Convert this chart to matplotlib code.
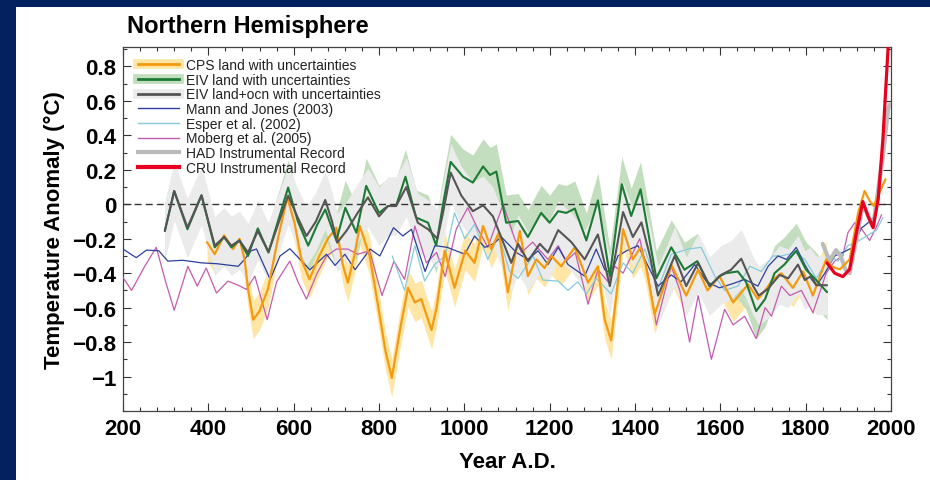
import numpy as np
import matplotlib
matplotlib.use("Agg")
import matplotlib.pyplot as plt
from matplotlib.lines import Line2D
from matplotlib.patches import Rectangle
from matplotlib.ticker import MultipleLocator, FixedLocator, FuncFormatter

plt.rcParams['font.family'] = ['Liberation Sans', 'DejaVu Sans']

# ---- data ----
# EIV land+ocean (dark grey) with uncertainty half-width
eivo_years = [298, 320, 351, 384, 415, 437, 454, 473, 493, 516, 541, 563, 587, 610, 630, 652,
              674, 690, 702, 725, 750, 774, 800, 821, 840, 864, 891, 915, 937, 950, 968, 993,
              1020, 1044, 1067, 1091, 1110, 1126, 1149, 1177, 1196, 1220, 1251, 1282, 1313,
              1341, 1372, 1395, 1415, 1435, 1454, 1493, 1520, 1548, 1575, 1602, 1625, 1649,
              1677, 1690, 1712, 1739, 1759, 1782, 1798, 1810, 1825, 1850]
eivo_vals = [-0.155, 0.077, -0.135, 0.052, -0.24, -0.19, -0.24, -0.21, -0.28, -0.155, -0.277,
             -0.12, 0.05, -0.08, -0.184, -0.10, 0.025, -0.10, -0.223, -0.15, -0.05, 0.04, -0.07,
             -0.01, -0.01, 0.10, -0.107, -0.145, -0.20, -0.05, 0.184, 0.05, -0.04, -0.006, -0.07,
             -0.22, -0.34, -0.23, -0.33, -0.23, -0.28, -0.15, -0.22, -0.32, -0.175, -0.475,
             -0.045, -0.19, -0.105, -0.30, -0.53, -0.30, -0.475, -0.34, -0.475, -0.41, -0.38,
             -0.316, -0.475, -0.53, -0.49, -0.41, -0.43, -0.35, -0.44, -0.42, -0.47, -0.47]
eivo_err = 0.17

# EIV land (green)
eivl_years = [298, 320, 351, 384, 415, 437, 454, 473, 493, 516, 541, 563, 587, 610, 634, 655,
              674, 700, 721, 747, 770, 800, 821, 840, 862, 887, 915, 934, 950, 968, 997, 1020,
              1044, 1060, 1075, 1098, 1126, 1149, 1180, 1200, 1220, 1239, 1259, 1286, 1313,
              1341, 1369, 1391, 1413, 1430, 1450, 1485, 1516, 1546, 1575, 1598, 1613, 1641,
              1660, 1684, 1705, 1727, 1750, 1778, 1801, 1821, 1850]
eivl_vals = [-0.155, 0.077, -0.145, 0.052, -0.25, -0.19, -0.25, -0.21, -0.30, -0.14, -0.28,
             -0.10, 0.097, -0.10, -0.24, -0.12, -0.03, -0.21, -0.02, -0.165, 0.107, -0.05, -0.01,
             -0.01, 0.16, -0.077, -0.107, -0.24, 0.0, 0.246, 0.16, 0.126, 0.22, 0.17, 0.19,
             -0.107, -0.097, -0.19, -0.05, -0.107, -0.04, -0.05, -0.025, -0.21, 0.023, -0.417,
             0.116, -0.068, 0.087, -0.15, -0.43, -0.25, -0.38, -0.33, -0.475, -0.417, -0.40,
             -0.39, -0.45, -0.62, -0.55, -0.40, -0.35, -0.27, -0.38, -0.43, -0.51]
eivl_err = 0.16

# CPS land (orange)
cps_years = [397, 415, 437, 458, 473, 485, 493, 505, 520, 540, 563, 585, 602, 618, 637, 660,
             680, 700, 715, 727, 742, 755, 778, 798, 815, 830, 852, 868, 884, 899, 923, 935,
             954, 977, 1002, 1024, 1044, 1063, 1081, 1102, 1130, 1149, 1169, 1188, 1204, 1227,
             1259, 1290, 1313, 1329, 1344, 1360, 1372, 1395, 1413, 1425, 1446, 1485, 1520,
             1548, 1570, 1598, 1630, 1665, 1688, 1705, 1722, 1743, 1770, 1794, 1817, 1848,
             1860, 1880, 1903, 1923, 1938, 1950, 1960, 1973, 1987]
cps_vals = [-0.22, -0.29, -0.18, -0.26, -0.20, -0.32, -0.49, -0.67, -0.62, -0.49, -0.20, 0.04,
            -0.107, -0.32, -0.436, -0.30, -0.20, -0.136, -0.35, -0.455, -0.30, -0.126, -0.30,
            -0.59, -0.85, -1.008, -0.69, -0.485, -0.57, -0.55, -0.73, -0.60, -0.27, -0.485,
            -0.27, -0.34, -0.126, -0.26, -0.165, -0.51, -0.155, -0.417, -0.32, -0.37, -0.30,
            -0.36, -0.25, -0.455, -0.36, -0.67, -0.79, -0.45, -0.145, -0.32, -0.25, -0.35,
            -0.64, -0.35, -0.53, -0.38, -0.50, -0.417, -0.57, -0.465, -0.55, -0.50, -0.44,
            -0.40, -0.485, -0.39, -0.53, -0.32, -0.36, -0.378, -0.32, -0.05, 0.077, 0.02,
            -0.01, 0.068, 0.145]
cps_err = 0.11
cps_band_end = 1850

# Mann and Jones (2003)
mj_years = [200, 231, 255, 284, 305, 340, 384, 420, 470, 485, 500, 513, 545, 568, 591, 615,
            638, 677, 697, 720, 744, 779, 802, 834, 856, 876, 908, 931, 960, 1001, 1024, 1048,
            1067, 1087, 1122, 1149, 1173, 1196, 1220, 1243, 1282, 1309, 1329, 1344, 1360,
            1380, 1407, 1454, 1485, 1508, 1540, 1568, 1598, 1630, 1657, 1688, 1712, 1735,
            1755, 1778, 1798, 1826, 1845, 1868, 1895, 1911, 1930, 1950, 1962, 1973, 1980]
mj_vals = [-0.26, -0.31, -0.266, -0.27, -0.33, -0.325, -0.34, -0.345, -0.36, -0.32, -0.27,
           -0.26, -0.436, -0.30, -0.258, -0.32, -0.38, -0.29, -0.355, -0.29, -0.38, -0.26,
           -0.30, -0.136, -0.184, -0.145, -0.39, -0.24, -0.25, -0.29, -0.184, -0.25, -0.23,
           -0.19, -0.28, -0.32, -0.27, -0.35, -0.25, -0.35, -0.417, -0.26, -0.38, -0.40,
           -0.30, -0.27, -0.24, -0.475, -0.41, -0.45, -0.35, -0.45, -0.485, -0.46, -0.436,
           -0.475, -0.36, -0.30, -0.32, -0.25, -0.35, -0.47, -0.40, -0.30, -0.27, -0.25,
           -0.14, -0.10, -0.07, 0.087, 0.10]

# Esper et al. (2002)
esp_years = [831, 860, 884, 907, 930, 955, 977, 1001, 1024, 1055, 1081, 1106, 1126, 1161,
             1184, 1220, 1243, 1266, 1286, 1309, 1344, 1372, 1395, 1423, 1454, 1485, 1524,
             1555, 1587, 1610, 1641, 1669, 1696, 1723, 1743, 1775, 1798, 1825, 1840, 1856,
             1876, 1899, 1919, 1946, 1966, 1981]
esp_vals = [-0.30, -0.50, -0.24, -0.446, -0.35, -0.30, -0.05, -0.20, -0.116, -0.32, -0.18,
            -0.39, -0.43, -0.30, -0.44, -0.446, -0.50, -0.45, -0.52, -0.43, -0.52, -0.34,
            -0.40, -0.26, -0.49, -0.29, -0.26, -0.25, -0.417, -0.50, -0.475, -0.36, -0.39,
            -0.30, -0.30, -0.28, -0.32, -0.43, -0.37, -0.30, -0.33, -0.24, -0.22, -0.18,
            -0.15, -0.077]

# Moberg et al. (2005)
mob_years = [198, 220, 251, 278, 300, 320, 352, 374, 395, 419, 446, 470, 489, 509, 538, 560,
             591, 610, 630, 655, 677, 700, 727, 750, 778, 807, 835, 860, 884, 911, 935, 955,
             981, 1008, 1031, 1055, 1091, 1118, 1134, 1160, 1196, 1220, 1239, 1260, 1290,
             1313, 1337, 1353, 1372, 1411, 1430, 1450, 1485, 1505, 1528, 1548, 1579, 1610,
             1630, 1657, 1684, 1705, 1720, 1743, 1763, 1790, 1817, 1848, 1868, 1887, 1899,
             1915, 1930, 1950, 1966, 1978]
mob_vals = [-0.417, -0.50, -0.36, -0.25, -0.45, -0.615, -0.36, -0.475, -0.37, -0.515, -0.446,
            -0.47, -0.494, -0.417, -0.67, -0.45, -0.33, -0.45, -0.55, -0.40, -0.30, -0.26,
            -0.26, -0.29, -0.27, -0.53, -0.33, -0.436, -0.126, -0.34, -0.28, -0.42, -0.145,
            -0.02, -0.14, -0.25, 0.0, -0.20, -0.28, -0.22, -0.32, -0.24, -0.33, -0.28, -0.58,
            -0.38, -0.45, -0.36, -0.40, -0.20, -0.40, -0.70, -0.36, -0.50, -0.80, -0.53,
            -0.90, -0.61, -0.70, -0.65, -0.78, -0.60, -0.65, -0.475, -0.53, -0.50, -0.63,
            -0.40, -0.33, -0.30, -0.165, -0.107, -0.14, -0.21, -0.13, -0.06]

# HAD instrumental record
had_years = [1840, 1856, 1871, 1882, 1893, 1903, 1923, 1934, 1958, 1981, 1993, 1997]
had_vals = [-0.23, -0.33, -0.266, -0.30, -0.378, -0.40, -0.15, 0.0, -0.13, 0.28, 0.55, 0.58]

# CRU instrumental record
cru_years = [1850, 1868, 1887, 1903, 1919, 1934, 1946, 1958, 1970, 1981, 1993, 1998]
cru_vals = [-0.34, -0.40, -0.42, -0.378, -0.165, 0.016, -0.068, -0.136, 0.03, 0.378, 0.9, 1.05]

y_ticks = [-1.0, -0.8, -0.6, -0.4, -0.2, 0.0, 0.2, 0.4, 0.6, 0.8]

labels = ["CPS land with uncertainties", "EIV land with uncertainties",
          "EIV land+ocn with uncertainties", "Mann and Jones (2003)", "Esper et al. (2002)",
          "Moberg et al. (2005)", "HAD Instrumental Record", "CRU Instrumental Record"]

# ---- colours ----
c_cps, c_cps_band = '#F59A0F', '#FFE6A6'
c_eivl, c_eivl_band = '#1C7A35', '#C3DEBE'
c_eivo, c_eivo_band = '#555555', '#EBEBEB'
c_mj, c_esp, c_mob = '#2E3F9C', '#86CBDB', '#C45BAE'
c_had, c_cru = '#BBBBBB', '#E8001F'

fig = plt.figure(figsize=(9.30, 4.81), dpi=100)
fig.patch.set_facecolor('white')
# navy frame strips on the left and top
fig.patches.append(Rectangle((0, 0), 16 / 930, 1, transform=fig.transFigure,
                             facecolor='#04215F', edgecolor='none', zorder=-10))
fig.patches.append(Rectangle((0, 1 - 8 / 481), 1, 8 / 481, transform=fig.transFigure,
                             facecolor='#04215F', edgecolor='none', zorder=-10))

ax = fig.add_axes([123 / 930, 1 - 412 / 481, 768 / 930, 364 / 481])

cy = np.array(cps_years)
cv = np.array(cps_vals)
m = cy <= cps_band_end
ax.fill_between(cy[m], cv[m] - cps_err, cv[m] + cps_err, color=c_cps_band, lw=0, zorder=1)
ey, ev = np.array(eivl_years), np.array(eivl_vals)
ax.fill_between(ey, ev - eivl_err, ev + eivl_err, color=c_eivl_band, lw=0, zorder=2)
oy, ov = np.array(eivo_years), np.array(eivo_vals)
ax.fill_between(oy, ov - eivo_err, ov + eivo_err, color=c_eivo_band, lw=0, zorder=3)

ax.axhline(0, color='#333333', lw=1.0, ls=(0, (5, 3)), zorder=4)

kw = dict(solid_joinstyle='round', solid_capstyle='round')
ax.plot(mob_years, mob_vals, color=c_mob, lw=0.9, zorder=5, **kw)
ax.plot(esp_years, esp_vals, color=c_esp, lw=0.9, zorder=5, **kw)
ax.plot(mj_years, mj_vals, color=c_mj, lw=0.9, zorder=5, **kw)
ax.plot(had_years, had_vals, color=c_had, lw=3, zorder=6, **kw)
ax.plot(cps_years, cps_vals, color=c_cps, lw=1.6, zorder=7, **kw)
ax.plot(eivl_years, eivl_vals, color=c_eivl, lw=1.5, zorder=7, **kw)
ax.plot(eivo_years, eivo_vals, color=c_eivo, lw=1.5, zorder=7, **kw)
ax.plot(cru_years, cru_vals, color=c_cru, lw=2.3, zorder=8, **kw)

ax.set_xlim(200, 2000)
ax.set_ylim(-1.2, 0.913)
ax.xaxis.set_major_locator(MultipleLocator(200))
ax.xaxis.set_minor_locator(MultipleLocator(40))
ax.yaxis.set_major_locator(FixedLocator(y_ticks))
ax.yaxis.set_minor_locator(MultipleLocator(0.1))
ax.yaxis.set_major_formatter(FuncFormatter(lambda v, p: ('%g' % round(v, 2)).replace('-', '\u2212')))
ax.tick_params(which='both', direction='in', top=True, right=True, width=0.8, color='#333333')
ax.tick_params(which='major', length=6, labelsize=16, pad=5)
ax.tick_params(which='minor', length=3)
for t in ax.get_xticklabels() + ax.get_yticklabels():
    t.set_fontweight('bold')
for s in ax.spines.values():
    s.set_color('#444444')
    s.set_linewidth(0.9)

ax.set_xlabel("Year A.D.", fontsize=16, fontweight='bold', labelpad=9)
ax.set_ylabel("Temperature Anomaly (\u00b0C)", fontsize=16, fontweight='bold', labelpad=5)
fig.text(127 / 930, 1 - 27 / 481, "Northern Hemisphere", fontsize=17, fontweight='bold',
         ha='left', va='center')

handles = [
    (Line2D([], [], color=c_cps_band, lw=7), Line2D([], [], color=c_cps, lw=2)),
    (Line2D([], [], color=c_eivl_band, lw=7), Line2D([], [], color=c_eivl, lw=2)),
    (Line2D([], [], color=c_eivo_band, lw=7), Line2D([], [], color=c_eivo, lw=2)),
    Line2D([], [], color=c_mj, lw=1),
    Line2D([], [], color=c_esp, lw=1),
    Line2D([], [], color=c_mob, lw=1),
    Line2D([], [], color=c_had, lw=3),
    Line2D([], [], color=c_cru, lw=3),
]
leg = ax.legend(handles, labels, loc='upper left', bbox_to_anchor=(0.012, 0.985), frameon=False,
                fontsize=10, handlelength=3.0, handletextpad=0.45, labelspacing=0.05,
                borderaxespad=0.2, borderpad=0.2)
for t in leg.get_texts():
    t.set_color('#222222')

fig.savefig("out.png", dpi=100)
